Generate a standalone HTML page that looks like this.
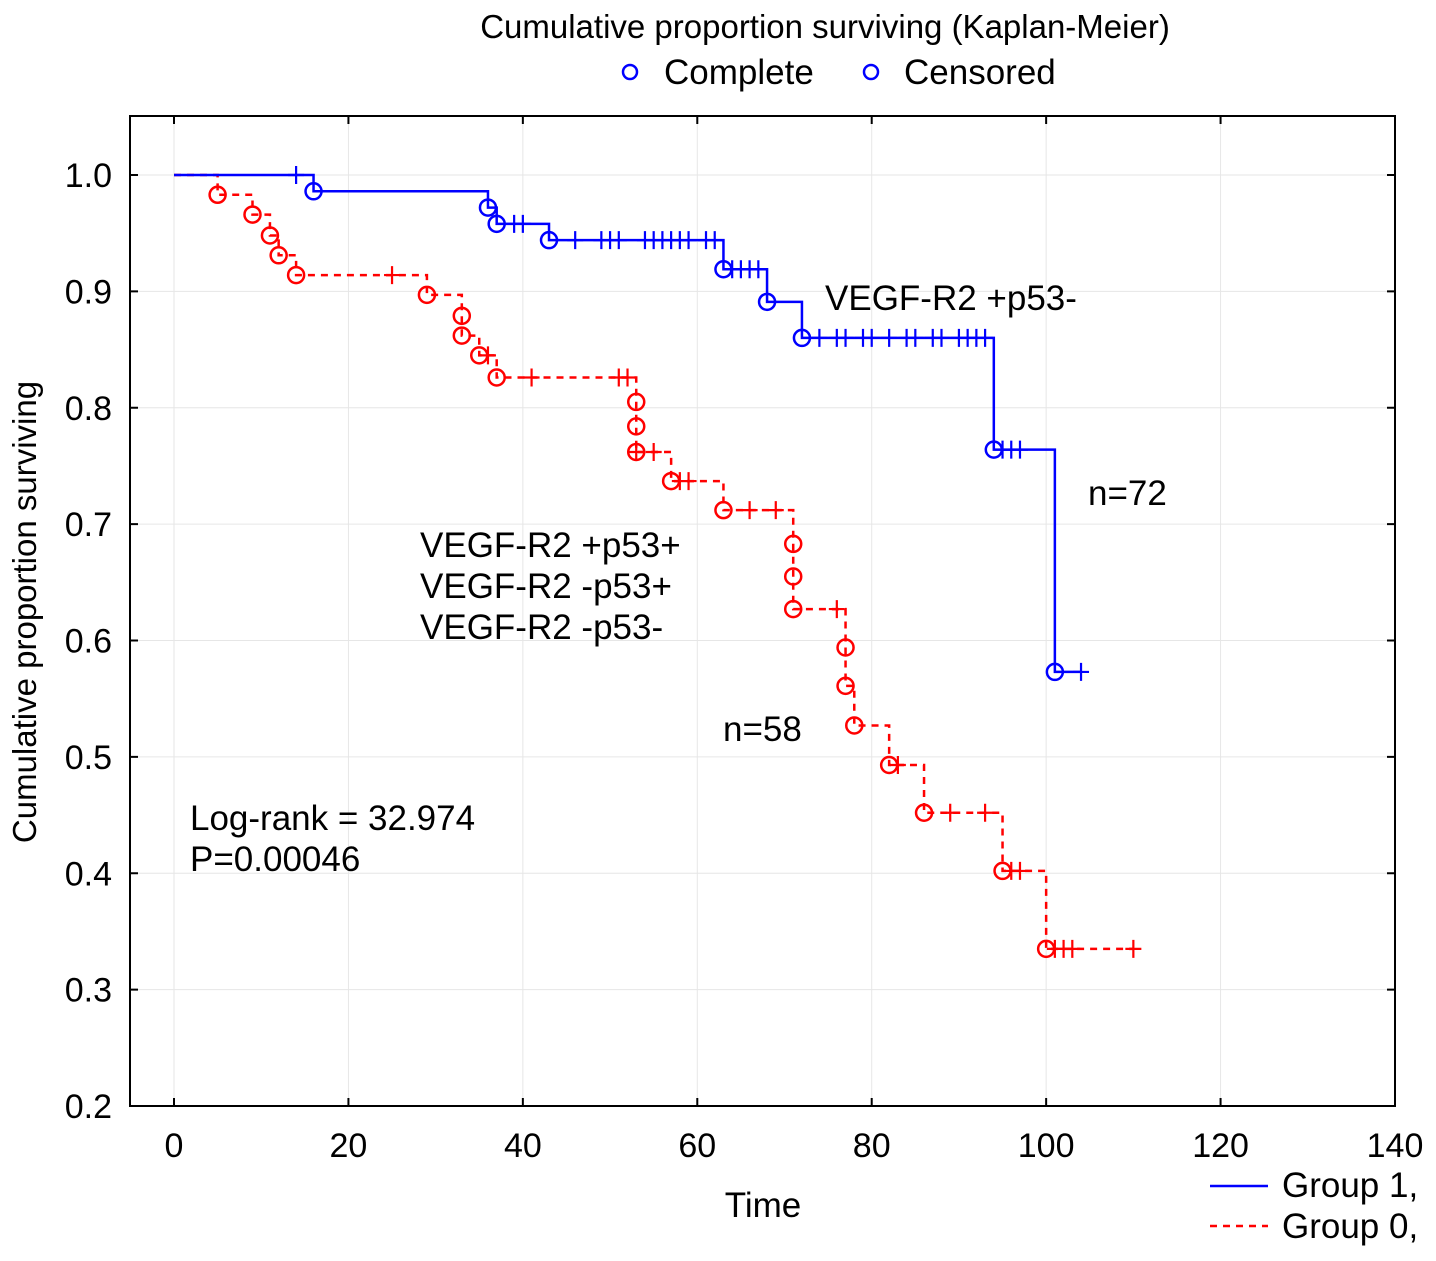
<!DOCTYPE html>
<html><head><meta charset="utf-8"><style>
body{margin:0;background:#fff;font-family:"Liberation Sans",Arial,sans-serif}
svg text{font-family:"Liberation Sans",Arial,sans-serif}
</style></head><body>
<svg id="c" width="1436" height="1256" xmlns="http://www.w3.org/2000/svg">
<text x="825" y="38" font-size="33" text-anchor="middle">Cumulative proportion surviving (Kaplan-Meier)</text>
<g>
<circle cx="630" cy="72" r="7" fill="none" stroke="#00f" stroke-width="2.5"/>
<text x="664" y="84" font-size="35">Complete</text>
<circle cx="871" cy="72" r="7" fill="none" stroke="#00f" stroke-width="2.5"/>
<text x="904" y="84" font-size="35">Censored</text>
</g>
<g id="grid"></g>
<rect x="130" y="116" width="1265" height="990" fill="none" stroke="#000" stroke-width="2"/>
<g id="ticks"></g>
<g id="series"></g>
<text x="763" y="1217" font-size="35" text-anchor="middle">Time</text>
<text transform="translate(36,612) rotate(-90)" font-size="33" text-anchor="middle">Cumulative proportion surviving</text>
<text x="825" y="310" font-size="35">VEGF-R2 +p53-</text>
<text x="1088" y="505" font-size="35">n=72</text>
<text x="420" y="557" font-size="35">VEGF-R2 +p53+</text>
<text x="420" y="598" font-size="35">VEGF-R2 -p53+</text>
<text x="420" y="639" font-size="35">VEGF-R2 -p53-</text>
<text x="723" y="741" font-size="35">n=58</text>
<text x="190" y="830" font-size="35">Log-rank = 32.974</text>
<text x="190" y="871" font-size="35">P=0.00046</text>
<g>
<line x1="1210" y1="1186" x2="1268" y2="1186" stroke="#00f" stroke-width="2.5"/>
<text x="1282" y="1197" font-size="35">Group 1,</text>
<line x1="1210" y1="1226" x2="1268" y2="1226" stroke="#f00" stroke-width="2.5" stroke-dasharray="7,6"/>
<text x="1282" y="1238" font-size="35">Group 0,</text>
</g>
</svg>
<script>
const xTicks=[0,20,40,60,80,100,120,140];
const yTicks=[0.2,0.3,0.4,0.5,0.6,0.7,0.8,0.9,1.0];
const g1EventTimes=[16,36,37,43,63,68,72,94,101];
const g1EventSurv=[0.986,0.972,0.958,0.944,0.919,0.891,0.860,0.764,0.573];
const g1CensorTimes=[14,39,40,46,49,50,51,54,55,56,57,58,59,61,62,64,65,66,67,74,76,77,79,80,82,84,85,87,88,90,91,92,93,95,96,97,104];
const g0EventTimes=[5,9,11,12,14,29,33,33,35,37,53,53,53,57,63,71,71,71,77,77,78,82,86,95,100];
const g0EventSurv=[0.983,0.966,0.948,0.931,0.914,0.897,0.879,0.862,0.845,0.826,0.805,0.784,0.762,0.737,0.712,0.683,0.655,0.627,0.594,0.561,0.527,0.493,0.452,0.402,0.335];
const g0CensorTimes=[25,36,41,51,52,53,55,58,59,66,69,76,83,89,93,96,97,101,102,103,110];

const X=t=>174+t*(1395-174)/140;
const Y=v=>1106-(v-0.2)*(1106-175)/0.8;
const NS="http://www.w3.org/2000/svg";
function mk(tag,attrs,parent){const e=document.createElementNS(NS,tag);for(const k in attrs)e.setAttribute(k,attrs[k]);parent.appendChild(e);return e;}
const grid=document.getElementById('grid'),ticks=document.getElementById('ticks'),series=document.getElementById('series');
xTicks.forEach(t=>{
  const l=mk('line',{x1:X(t),x2:X(t),y1:116,y2:1106,stroke:'#e6e6e6','stroke-width':1},grid);
  
  
  mk('line',{x1:X(t),x2:X(t),y1:1106,y2:1098,stroke:'#000','stroke-width':2},ticks);
  mk('line',{x1:X(t),x2:X(t),y1:116,y2:124,stroke:'#000','stroke-width':2},ticks);
  const tx=mk('text',{x:X(t),y:1157,'font-size':34,'text-anchor':'middle'},ticks);
  tx.textContent=t;
  
  
});
yTicks.forEach(v=>{
  const l=mk('line',{x1:130,x2:1395,y1:Y(v),y2:Y(v),stroke:'#e6e6e6','stroke-width':1},grid);
  
  
  mk('line',{x1:130,x2:138,y1:Y(v),y2:Y(v),stroke:'#000','stroke-width':2},ticks);
  mk('line',{x1:1387,x2:1395,y1:Y(v),y2:Y(v),stroke:'#000','stroke-width':2},ticks);
  const tx=mk('text',{x:112,y:Y(v)+12,'font-size':34,'text-anchor':'end'},ticks);
  tx.textContent=v.toFixed(1);
  
  
});
function survAt(times,surv,t){let s=1;for(let i=0;i<times.length;i++){if(times[i]<=t)s=surv[i];}return s;}
function draw(times,surv,cens,color,dash,name){
  const g=mk('g',{},series);
  
  
  const last=Math.max(times[times.length-1],cens[cens.length-1]);
  let d='M'+X(0)+','+Y(1);
  for(let i=0;i<times.length;i++){d+=' H'+X(times[i])+' V'+Y(surv[i]);}
  d+=' H'+X(last);
  const p=mk('path',{d:d,fill:'none',stroke:color,'stroke-width':2.5},g);
  if(dash)p.setAttribute('stroke-dasharray',dash);
  
  
  for(let i=0;i<times.length;i++){
    const c=mk('circle',{cx:X(times[i]),cy:Y(surv[i]),r:8,fill:'none',stroke:color,'stroke-width':2.5},g);
    
    
  }
  cens.forEach(t=>{
    const v=survAt(times,surv,t),x=X(t),y=Y(v);
    const m=mk('path',{d:`M${x-8},${y} H${x+8} M${x},${y-9} V${y+9}`,stroke:color,'stroke-width':2.2,fill:'none'},g);
    
    
  });
}
draw(g0EventTimes,g0EventSurv,g0CensorTimes,'#f00','7,6','group0');
draw(g1EventTimes,g1EventSurv,g1CensorTimes,'#00f',null,'group1');
</script>
</body></html>
